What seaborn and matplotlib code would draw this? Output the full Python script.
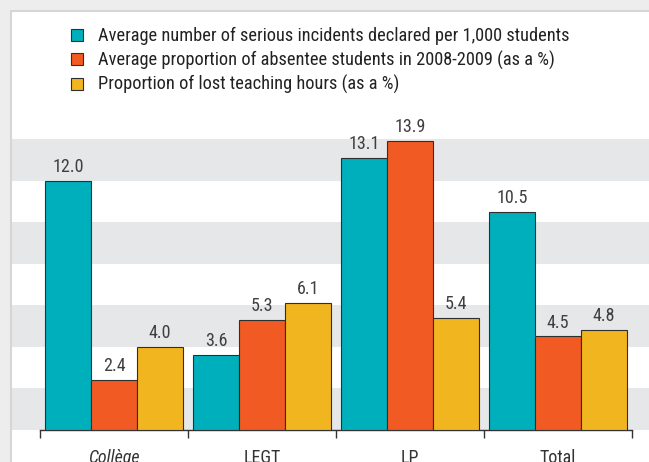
import matplotlib
matplotlib.use("Agg")
import matplotlib.pyplot as plt
from matplotlib.patches import Rectangle
from matplotlib.lines import Line2D
from matplotlib import font_manager
import seaborn as sns
import pandas as pd

categories = ["Collège", "LEGT", "LP", "Total"]
series_names = [
    "Average number of serious incidents declared per 1,000 students",
    "Average proportion of absentee students in 2008-2009 (as a %)",
    "Proportion of lost teaching hours (as a %)",
]
serious_incidents = [12.0, 3.6, 13.1, 10.5]
absentee_share = [2.4, 5.3, 13.9, 4.5]
lost_hours_share = [4.0, 6.1, 5.4, 4.8]

colors = ["#00AFBC", "#F15A22", "#F1B520"]
band_grey = "#E6E7E8"
ink = "#333333"

sns.set_theme(style="white")

# prefer a narrow sans face when one is available
installed = {f.name for f in font_manager.fontManager.ttflist}
preferred = ["Liberation Sans Narrow", "DejaVu Sans Condensed", "Roboto Condensed",
             "Open Sans Condensed", "Liberation Sans", "DejaVu Sans"]
families = [f for f in preferred if f in installed] or ["DejaVu Sans"]
plt.rcParams["font.family"] = families
narrow = families[0] in ("Liberation Sans Narrow", "DejaVu Sans Condensed",
                         "Roboto Condensed", "Open Sans Condensed")
scale = 1.0 if narrow else 0.86

rows = []
for name, vals in zip(series_names, [serious_incidents, absentee_share, lost_hours_share]):
    for cat, v in zip(categories, vals):
        rows.append({"category": cat, "series": name, "value": v})
df = pd.DataFrame(rows)

W, H = 649, 462
fig = plt.figure(figsize=(W / 100, H / 100), dpi=100)
fig.patch.set_facecolor("white")

# page frame: grey strips along the top and left edge
fig.patches.append(Rectangle((0, 1 - 10 / H), 1, 10 / H, transform=fig.transFigure,
                             facecolor="#EDEDED", edgecolor="none", zorder=0))
fig.patches.append(Rectangle((0, 0), 10 / W, 1, transform=fig.transFigure,
                             facecolor="#EDEDED", edgecolor="none", zorder=0))
fig.lines.append(Line2D([10.5 / W, 1], [1 - 10.5 / H, 1 - 10.5 / H], transform=fig.transFigure,
                        color="#D6D6D6", lw=1.5))
fig.lines.append(Line2D([10.5 / W, 10.5 / W], [0, 1 - 10.5 / H], transform=fig.transFigure,
                        color="#D6D6D6", lw=1.5))

px_per_unit = 20.78
ymax = 16
ax_left, ax_right = 12, 649
ax = fig.add_axes([ax_left / W, 32 / H, (ax_right - ax_left) / W, ymax * px_per_unit / H])
ax.set_facecolor("none")

sns.barplot(data=df, x="category", y="value", hue="series", hue_order=series_names,
            order=categories, palette=colors, width=0.932, edgecolor="#2f2f2f",
            linewidth=0.8, saturation=1, ax=ax, zorder=3)

# alternating horizontal bands
for lo in range(0, ymax, 4):
    ax.axhspan(lo, lo + 2, color=band_grey, lw=0, zorder=0)

group_px = 148
center_px = 114
ax.set_xlim((ax_left - center_px) / group_px, (ax_right - center_px) / group_px)
ax.set_ylim(0, ymax)

for cont in ax.containers:
    ax.bar_label(cont, fmt="%.1f", padding=3.5, fontsize=13 * scale, color="#3f3f3f")

for s in ["left", "right", "top"]:
    ax.spines[s].set_visible(False)
ax.spines["bottom"].set_bounds(-0.5, 3.5)
ax.spines["bottom"].set_color(ink)
ax.spines["bottom"].set_linewidth(1)
ax.set_yticks([])
ax.set_ylabel("")
ax.set_xlabel("")

ax.set_xticks([-0.5, 0.5, 1.5, 2.5, 3.5])
ax.set_xticklabels([])
ax.tick_params(axis="x", which="major", length=6, width=1, color=ink, direction="out", bottom=True)
ax.set_xticks(range(len(categories)), minor=True)
ax.set_xticklabels(categories, minor=True, fontsize=13 * scale, color=ink)
ax.tick_params(axis="x", which="minor", length=0, pad=14)
ax.get_xticklabels(minor=True)[0].set_fontstyle("italic")

handles, labels = ax.get_legend_handles_labels()
fs = 13.2 * scale
fs_px = fs * 100 / 72
ax.legend(handles, labels, loc="upper left", bbox_to_anchor=(71 / W, 1 - 27 / H),
          bbox_transform=fig.transFigure, frameon=False, fontsize=fs, borderpad=0,
          borderaxespad=0, handlelength=12 / fs_px, handleheight=12 / fs_px,
          handletextpad=15 / fs_px, labelspacing=5.5 / fs_px, labelcolor="#222222")

fig.savefig("out.png", dpi=100)
